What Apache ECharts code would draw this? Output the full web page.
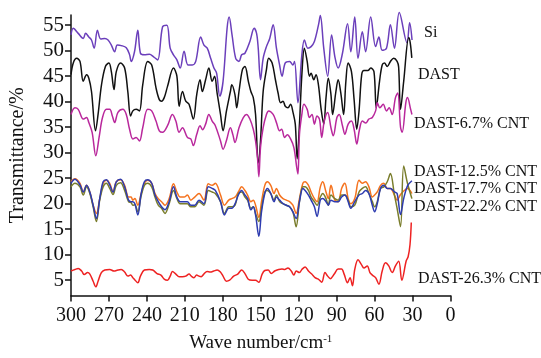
<!DOCTYPE html>
<html><head><meta charset="utf-8">
<script src="https://cdn.jsdelivr.net/npm/echarts@6/dist/echarts.min.js"></script>
<style>html,body{margin:0;padding:0;background:#fff}#c{width:541px;height:358px}</style>
</head><body><div id="c"></div>
<script>
// [wave number (cm^-1), transmittance (%)]
const siData = [[300,53.1],[298.2,54.4],[294.3,53.4],[290.3,52.4],[288.5,53.4],[285.9,52.7],[283.8,52.1],[281.7,50.5],[279.1,54.0],[276.5,52.3],[273.3,52.4],[270.7,52.1],[268.1,51.1],[265.5,49.8],[263.4,51.1],[260.2,51.0],[256.3,50.6],[253.7,49.2],[252.4,47.9],[249.8,49.8],[247.2,54.0],[245.1,49.5],[242,49.2],[238,49.3],[234.7,48.8],[231.5,48.2],[227.6,54.7],[224.2,55.0],[221.6,50.5],[219,49.2],[216.3,48.2],[213.7,46.6],[210.6,49.9],[207.5,47.2],[204.1,47.2],[201.4,47.9],[197.5,52.7],[194.9,51.1],[192.3,50.5],[189.6,48.5],[187,46.6],[184.9,45.6],[182.4,41.1],[179.8,44.0],[176.6,54.4],[175,56.6],[172.7,53.1],[169.8,48.5],[167.2,47.9],[165.1,49.2],[162.5,49.5],[158.6,51.8],[155.2,54.4],[153.3,53.4],[152,50.5],[150.2,44.3],[148.1,48.5],[145.5,50.8],[142.9,52.4],[140.2,55.1],[137.6,50.5],[135.1,47.2],[133.2,45.0],[130.6,47.6],[127.2,47.9],[124.6,47.2],[123.3,47.9],[120.6,39.8],[117.5,49.2],[115.5,52.1],[112.8,50.5],[110.2,50.8],[107.6,51.8],[104.4,55.0],[102.9,56.9],[100.2,50.5],[97.1,45.0],[94,53.1],[91.4,48.8],[88.8,46.6],[85.4,49.5],[81.4,55.3],[78.8,49.8],[75.7,56.6],[73.1,48.5],[69.7,53.7],[67.1,49.8],[63.1,56.6],[59.2,50.8],[56.6,52.7],[54,50.1],[50.6,50.5],[47.5,55.1],[44.3,50.5],[40.5,57.5],[34.4,51.6],[32.3,55.5],[30.4,52.1]];
const dastData = [[300,45.3],[298.2,47.6],[295.5,48.5],[292.9,47.9],[290.3,44.0],[287.7,45.3],[285.9,44.6],[283.8,42.0],[280.6,34.3],[278.6,37.5],[275.9,43.3],[272.8,46.9],[270,47.6],[268.1,45.9],[266,42.4],[264.2,45.9],[260.8,47.6],[257.6,46.6],[255.1,42.0],[252.9,37.2],[251.1,38.2],[248.5,38.5],[245.9,38.2],[243.3,43.3],[239.4,47.9],[236.2,47.2],[232.8,42.7],[230.2,40.4],[228.4,40.1],[226.3,40.8],[223.7,43.0],[219,46.6],[216.3,45.0],[214.5,39.1],[211.9,42.0],[209.3,40.1],[206.7,39.5],[203.3,36.6],[200.6,41.4],[198,44.3],[196.2,42.0],[193.6,44.3],[191,46.6],[188.4,44.0],[186.5,45.0],[184.5,41.7],[181.8,37.5],[179.8,34.3],[177.1,38.2],[174,42.0],[172.9,43.3],[170.4,41.4],[169,38.8],[167.2,42.0],[164.5,46.3],[162.5,46.9],[159.8,44.0],[157.8,42.0],[155.9,40.8],[154.1,37.5],[152,28.0],[150.2,32.3],[148.1,42.0],[145.5,46.3],[143.7,48.5],[141,47.6],[138.4,44.3],[136.3,41.7],[134.3,39.8],[132.4,40.1],[130.6,39.1],[128.5,38.8],[126.4,39.5],[124.5,37.9],[122.7,35.6],[121.2,28.8],[119.4,35.6],[117.5,45.3],[115.5,50.5],[113.3,47.9],[111.5,45.0],[110.2,45.6],[108.1,44.3],[106.3,45.3],[104.4,43.3],[102.4,38.8],[100.2,35.6],[98.4,40.8],[96.6,44.6],[94.5,41.4],[93.2,37.5],[90.6,42.0],[88.8,44.3],[86.7,41.7],[84.5,37.5],[82.7,44.0],[80.9,47.6],[78.3,45.9],[76.2,40.4],[74.1,34.6],[72.3,38.2],[70.2,45.3],[68.4,46.1],[65.3,46.1],[63.1,46.6],[60.5,45.9],[58.7,38.8],[56.1,44.0],[54,47.2],[52.2,47.6],[50,46.9],[47.5,47.9],[44.9,48.5],[42.2,47.9],[41,46.8],[39.5,38.5],[37,44.0],[33,52.6],[31.8,51.5],[30.6,48.6]];
const cnt67Data = [[300,37.5],[296.9,38.8],[294.3,38.5],[290.3,36.6],[287.7,36.9],[285.9,35.9],[283.3,34.0],[280.4,29.4],[277.8,33.0],[275.1,36.9],[272,38.5],[269.4,38.5],[267.3,37.2],[265.5,35.9],[262.9,37.9],[259,38.5],[256.3,37.5],[253.7,34.6],[251.1,32.7],[248.5,33.0],[245.9,32.3],[243.3,34.9],[239.4,38.5],[236.2,38.2],[232.8,36.2],[230.2,34.3],[227.6,34.0],[223.7,35.3],[219.8,37.5],[217.1,36.2],[214.5,34.0],[211.9,34.9],[208,33.0],[205.3,32.7],[203.3,31.4],[200.6,33.6],[198,35.3],[196,34.5],[193.6,35.6],[191,37.5],[188.4,36.2],[185.9,35.3],[181.8,32.3],[179.8,30.7],[177,32.5],[174,34.9],[172,33.5],[170.4,32.0],[167.2,34.9],[163.8,36.9],[161.2,37.5],[158.6,36.6],[155.9,34.6],[154.1,32.3],[152.5,28.8],[151.5,25.3],[150.2,31.0],[148.1,34.9],[145.5,37.5],[143.7,38.2],[140.2,37.5],[137.6,35.9],[135.1,34.3],[133.5,34.6],[131.1,33.0],[129,33.5],[126.4,32.7],[123.8,31.0],[121.5,27.0],[120.6,25.8],[119.4,33.6],[117.5,37.5],[115.9,39.5],[113.3,38.5],[111.5,36.9],[109.5,37.5],[107.6,35.6],[105.5,37.2],[103.5,36.5],[101.8,33.0],[99.8,36.2],[97.1,37.9],[94.5,34.9],[92.7,33.3],[89.8,36.9],[88,37.5],[85.4,35.3],[83.5,33.6],[80.9,35.6],[78.3,36.2],[76.2,34.6],[74.1,31.7],[72,34.5],[69.7,36.2],[67,35.8],[64.5,36.6],[61.8,36.9],[59.2,38.2],[57.9,39.8],[55.8,38.8],[53.2,39.5],[50.6,38.2],[48.5,38.8],[46.1,37.5],[43.5,40.8],[41.7,41.7],[39.5,35.0],[38.2,34.0],[35.3,39.8],[34,40.8],[31.5,38.5],[30.5,37.5]];
const waveMid = [300,296.9,292.9,290.3,287.7,285.1,282.5,279.9,277.3,274.6,272,269.4,266.8,264.2,260.8,257.6,254.5,252.5,251.1,249.5,247.2,244.6,242,239.4,236.2,233.6,231,228.4,225.7,222.4,219,216.3,213.7,210.6,208,205.3,202.2,198.8,194.9,191.5,188.4,185.9,181.8,178.7,175.3,172.9,170.3,167.7,165.1,162.5,160.4,157.8,155.9,154.1,151.5,149.4,146.8,144.7,142.1,139.5,137.6,135.1,132.4,129.8,127.2,124.6,122,119.4,116.7,114.9,112.3,110.2,107.6,105.5,102.9,101,98.4,96.6,94.5,91.4,88.8,86.1,83.5,80.9,78.8,75.7,72.3,69.7,67.1,64.5,61.8,60,57.9,55.3,52.7,50,47.5,44.3,42.2,39.5,37,34,30.5];
const cnt125 = [24.3,24.9,24.0,22.3,23.6,22.3,19.7,18.1,21.0,24.0,24.6,24.0,22.3,24.3,24.7,23.6,21.3,21.3,20.7,21.0,19.7,21.9,24.0,24.6,24.0,22.0,21.0,20.4,19.7,21.0,23.9,22.3,21.3,21.3,21.7,20.7,21.3,22.0,20.7,23.9,23.6,24.0,21.7,19.7,20.7,21.0,21.3,22.3,23.3,22.6,21.7,20.4,20.7,19.7,17.3,20.4,23.6,24.3,23.6,22.0,23.0,21.7,21.0,20.7,20.4,19.7,18.1,21.0,24.0,24.3,23.6,22.3,21.0,20.4,23.3,24.3,22.3,21.0,23.6,20.7,20.4,23.0,24.0,21.0,20.0,21.0,24.6,24.0,24.3,23.3,21.3,21.7,22.3,23.6,24.0,23.0,23.0,21.7,20.7,21.8,22.5,23.0,22.0];
const cnt177 = [24.0,24.8,23.7,22.3,23.6,22.3,19.7,17.1,21.0,24.3,24.7,23.7,22.3,24.3,24.8,23.3,20.7,20.4,20.4,20.0,17.8,21.9,24.3,24.7,24.0,21.7,20.4,19.4,18.8,20.4,23.3,21.3,20.4,20.4,20.4,19.7,19.7,20.7,20.0,23.3,23.0,22.6,20.4,17.8,19.1,19.1,20.0,21.7,22.6,21.7,21.0,18.8,19.4,17.8,13.6,18.4,22.0,23.0,22.0,20.4,21.3,20.7,20.0,19.7,19.4,18.4,17.1,20.4,23.0,22.6,21.7,20.7,19.4,17.5,20.7,21.0,20.4,19.7,20.7,20.4,20.4,21.3,21.7,20.4,19.1,20.4,21.7,22.0,22.6,22.0,19.7,18.4,20.0,23.0,23.6,23.0,23.0,22.3,22.0,17.9,21.0,23.5,24.5];
const cnt222 = [23.3,24.0,23.3,21.7,23.3,22.0,19.4,16.5,20.7,23.3,24.0,23.0,21.8,23.6,24.1,22.6,20.4,20.2,19.7,19.8,18.4,21.5,23.6,24.0,23.3,21.3,19.7,19.1,18.1,20.0,22.6,21.0,20.0,20.0,20.0,19.4,19.4,20.4,19.7,22.6,22.3,22.0,20.4,18.1,19.4,19.4,19.7,22.0,22.3,21.3,20.7,19.1,19.4,18.1,16.5,19.1,22.3,22.6,22.0,20.7,21.7,20.4,20.0,19.7,19.4,18.4,15.5,20.4,23.3,23.3,22.6,21.3,20.4,19.7,21.3,22.0,21.0,19.7,21.7,21.0,20.7,21.7,21.7,20.7,19.4,19.7,22.3,23.0,23.3,22.0,20.4,19.4,20.4,23.0,23.3,24.3,25.9,21.7,19.1,15.5,27.4,24.0,21.0];
const cnt263Data = [[300,6.8],[296.9,7.1],[294.3,7.3],[291.6,6.8],[289.5,6.1],[286.9,6.5],[285.1,6.2],[282.5,4.8],[280.4,3.7],[278.6,4.8],[276,6.5],[273.3,7.0],[269.4,7.1],[266,6.8],[262.9,7.0],[260.3,7.1],[257.6,6.6],[255,5.8],[252.9,6.0],[251.1,5.5],[249.3,5.0],[247.2,4.5],[245.1,5.8],[242,7.0],[238.1,7.1],[235.4,7.0],[232,6.3],[228.9,6.0],[226.3,5.2],[223.7,5.0],[221.6,5.8],[219.8,6.7],[217.1,6.2],[214.5,5.7],[211.9,5.7],[209.3,5.8],[206.7,6.2],[204.9,5.8],[202.8,5.5],[200.7,6.0],[198.9,5.8],[197.1,5.7],[195,6.2],[192.4,6.7],[189.8,6.6],[187.2,6.8],[184.5,7.0],[181.9,6.6],[179.8,5.8],[177.2,4.8],[174.6,5.0],[171.4,5.8],[168.2,6.2],[165.1,7.0],[162.5,6.3],[159.9,5.2],[156.8,5.0],[154.1,5.0],[151.5,4.6],[148.9,6.2],[146.8,6.9],[144.2,7.0],[141.6,6.3],[139,6.8],[135.8,7.1],[133.2,7.2],[131.1,7.1],[128.5,7.4],[125.9,6.8],[123.8,6.0],[122,6.8],[119.4,6.5],[117.5,7.1],[114.9,7.6],[112.3,6.8],[109.7,6.2],[107.1,5.5],[104.5,5.2],[101.8,4.6],[99.2,6.5],[97.1,5.8],[95,5.3],[91.9,6.2],[88.8,7.2],[86.1,7.2],[84.1,6.2],[81.4,4.5],[79.4,5.5],[77.5,3.9],[75.7,7.1],[73.1,9.0],[70.5,8.1],[68.4,7.4],[65.8,7.8],[63.7,6.5],[61.8,6.0],[59.2,5.5],[56.6,4.2],[54,6.8],[51.4,8.4],[48.8,7.8],[46.1,6.5],[43.5,7.8],[40.9,8.7],[38.5,5.0],[35,8.8],[33.5,9.6],[32,12.0],[31,16.3]];
const xTicks = [300,270,240,210,180,150,120,90,60,30,0];
const yTicks = [5,10,15,20,25,30,35,40,45,50,55];
const seriesNames = ['Si','DAST','DAST-6.7% CNT','DAST-12.5% CNT','DAST-17.7% CNT','DAST-22.2% CNT','DAST-26.3% CNT'];
const seriesColors = ['#6b3fbb','#111111','#b9289c','#f5731f','#7a7d2c','#2e3cb0','#ee2222'];

const zip = (xs, ys) => xs.map((x, i) => [x, ys[i]]);
const FONT = '"Liberation Serif","Times New Roman",serif';
const chart = echarts.init(document.getElementById('c'), null, {renderer:'canvas'});
const dataSets = [siData, dastData, cnt67Data, zip(waveMid, cnt125), zip(waveMid, cnt222), zip(waveMid, cnt177), cnt263Data];
const names = [seriesNames[0],seriesNames[1],seriesNames[2],seriesNames[3],seriesNames[5],seriesNames[4],seriesNames[6]];
const labelPos = [[424,34],[418,76],[414,125],[414,173],[414,190],[414,208],[418,280]];
chart.setOption({
  animation:false,
  backgroundColor:'#ffffff',
  grid:{left:68,right:90.5,top:15,bottom:59.7,containLabel:false},
  xAxis:{type:'value',inverse:true,min:0,max:300,interval:30,position:'bottom',
    name:'Wave number/cm{sup|-1}',nameLocation:'middle',nameGap:38,
    nameTextStyle:{fontFamily:FONT,fontSize:19,color:'#111',rich:{sup:{fontFamily:FONT,fontSize:11,color:'#111',padding:[0,0,9,0]}}},
    axisLine:{show:true,onZero:false,lineStyle:{color:'#111',width:1.5}},
    axisTick:{show:true,length:6,lineStyle:{color:'#111',width:1.5}},
    axisLabel:{fontFamily:FONT,fontSize:20,color:'#111',margin:10},
    splitLine:{show:false}},
  yAxis:{type:'value',min:2,max:57,position:'left',
    name:'Transmittance/%',nameLocation:'middle',nameGap:43,nameRotate:90,
    nameTextStyle:{fontFamily:FONT,fontSize:20,color:'#111'},
    axisLine:{show:true,onZero:false,lineStyle:{color:'#111',width:1.5}},
    axisTick:{show:true,length:6,customValues:yTicks,lineStyle:{color:'#111',width:1.5}},
    axisLabel:{fontFamily:FONT,fontSize:21,color:'#111',margin:7,customValues:yTicks},
    splitLine:{show:false}},
  series: dataSets.map((d, i) => ({
    type:'line', name:names[i], data:d, smooth:0.35, showSymbol:false, clip:false,
    lineStyle:{color:seriesColors[i], width:1.5}, itemStyle:{color:seriesColors[i]}, z: 2+i
  })),
  graphic: seriesNames.map((n, i) => ({
    type:'text', left:labelPos[i][0], top:labelPos[i][1]-9,
    style:{text:n, font:'16px '+FONT, fill:'#111'}
  }))
});
</script></body></html>
